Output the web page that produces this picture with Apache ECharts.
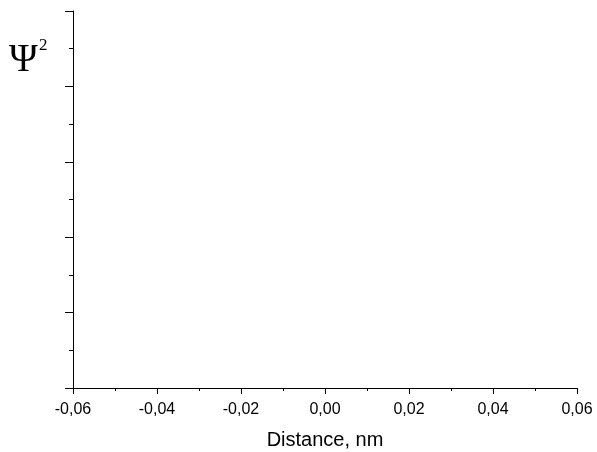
<!DOCTYPE html>
<html>
<head>
<meta charset="utf-8">
<script src="https://cdn.jsdelivr.net/npm/echarts@6/dist/echarts.min.js"></script>
<style>
  html, body { margin: 0; padding: 0; background: #fff; }
  #chart { width: 597px; height: 452px; }
</style>
</head>
<body>
<div id="chart"></div>
<script>
  // axis ranges (plot is empty)
  const xRange = [-0.06, 0.06];
  const xStep = 0.02;
  const yRange = [0, 5];
  const yStep = 1;
  const psiData = [];   // no curve drawn in the reference
  const xName = 'Distance, nm';

  const fmt = v => (Math.abs(v) < 1e-9 ? 0 : v).toFixed(2).replace('.', ',');

  const chart = echarts.init(document.getElementById('chart'));
  chart.setOption({
    animation: false,
    grid: { left: 73, right: 20, top: 11, bottom: 64, outerBoundsMode: 'none' },
    xAxis: {
      type: 'value',
      min: xRange[0],
      max: xRange[1],
      interval: xStep,
      name: xName,
      nameLocation: 'middle',
      nameGap: 42,
      nameTextStyle: { color: '#000', fontSize: 20, fontFamily: 'Liberation Sans, Arial, sans-serif' },
      axisLine: { onZero: false, lineStyle: { color: '#000', width: 1 } },
      axisTick: { show: true, length: 6, lineStyle: { color: '#000' } },
      minorTick: { show: true, splitNumber: 2, length: 3, lineStyle: { color: '#000' } },
      splitLine: { show: false },
      axisLabel: {
        color: '#000', fontSize: 16, margin: 14,
        fontFamily: 'Liberation Sans, Arial, sans-serif',
        showMinLabel: true, showMaxLabel: true,
        formatter: fmt
      }
    },
    yAxis: {
      type: 'value',
      min: yRange[0],
      max: yRange[1],
      interval: yStep,
      axisLine: { show: true, onZero: false, lineStyle: { color: '#000', width: 1 } },
      axisTick: { show: true, length: 8, lineStyle: { color: '#000' } },
      minorTick: { show: true, splitNumber: 2, length: 4, lineStyle: { color: '#000' } },
      splitLine: { show: false },
      axisLabel: { show: false }
    },
    graphic: [
      {
        type: 'text', left: 9, top: 41,
        style: { text: 'Ψ', fill: '#000', font: '39px "Liberation Serif", "Times New Roman", serif' }
      },
      {
        type: 'text', left: 39, top: 37,
        style: { text: '2', fill: '#000', font: '17px "Liberation Serif", "Times New Roman", serif' }
      }
    ],
    series: [
      { type: 'line', data: psiData, showSymbol: false }
    ]
  });
</script>
</body>
</html>
